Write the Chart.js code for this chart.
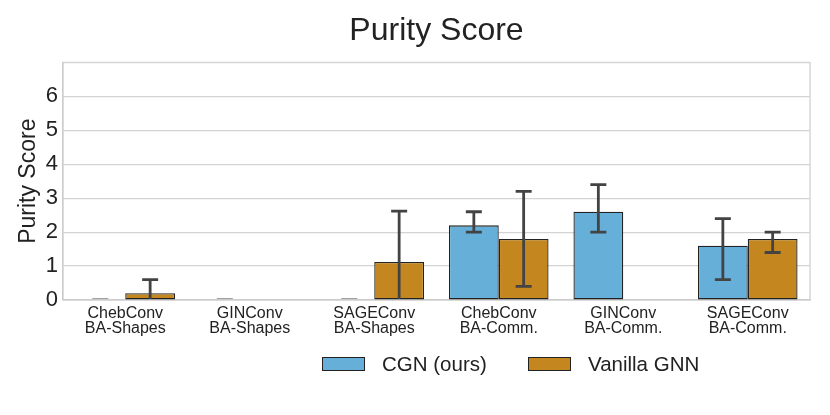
<!DOCTYPE html>
<html>
<head>
<meta charset="utf-8">
<script src="https://cdn.jsdelivr.net/npm/chart.js@4"></script>
<style>
  body { margin: 0; background: #fff; }
  #wrap { position: relative; width: 830px; height: 415px; }
  .leg { position: absolute; top: 352px; height: 23px; font: 20.5px "Liberation Sans", Arial, sans-serif; color: #222; display: flex; align-items: center; }
  .sw { width: 41px; height: 12px; border: 1px solid #222; margin-right: 17px; }
</style>
</head>
<body>
<div id="wrap">
  <canvas id="purityChart" width="830" height="415"></canvas>
  <div class="leg" style="left:322px"><span class="sw" style="background:#65afd8"></span>CGN (ours)</div>
  <div class="leg" style="left:528px"><span class="sw" style="background:#c4871f"></span>Vanilla GNN</div>
</div>
<script>
// categorías (modelo / dataset)
const categories = [
  ['ChebConv', 'BA-Shapes'], ['GINConv', 'BA-Shapes'], ['SAGEConv', 'BA-Shapes'],
  ['ChebConv', 'BA-Comm.'], ['GINConv', 'BA-Comm.'], ['SAGEConv', 'BA-Comm.']
];
const yTicks = [0, 1, 2, 3, 4, 5, 6];

const cgnMean = [0, 0, 0, 2.2, 2.6, 1.6];
const cgnLow  = [0, 0, 0, 2.0, 2.0, 0.6];
const cgnHigh = [0, 0, 0, 2.6, 3.4, 2.4];

const vanillaMean = [0.2, null, 1.12, 1.8, null, 1.8];
const vanillaLow  = [-0.2, null, -0.38, 0.4, null, 1.4];
const vanillaHigh = [0.6, null, 2.62, 3.2, null, 2.0];

const errLow = [cgnLow, vanillaLow];
const errHigh = [cgnHigh, vanillaHigh];

const FONT = '"Liberation Sans", Arial, sans-serif';

// barras de error + marco del área
const errorBars = {
  id: 'errorBars',
  beforeDraw(chart) {
    const a = chart.chartArea, ctx = chart.ctx;
    ctx.save();
    ctx.strokeStyle = '#cccccc';
    ctx.lineWidth = 1.2;
    ctx.strokeRect(a.left, a.top, a.right - a.left, a.bottom - a.top);
    ctx.restore();
  },
  afterDatasetsDraw(chart) {
    const ctx = chart.ctx, y = chart.scales.y, a = chart.chartArea;
    ctx.save();
    ctx.beginPath();
    ctx.rect(a.left, a.top - 2, a.right - a.left, a.bottom - a.top + 1);
    ctx.clip();
    ctx.strokeStyle = '#434343';
    ctx.lineWidth = 2.8;
    chart.data.datasets.forEach((ds, i) => {
      chart.getDatasetMeta(i).data.forEach((bar, j) => {
        const lo = errLow[i][j], hi = errHigh[i][j];
        if (lo === null || hi === null) return;
        const x = bar.x, y1 = y.getPixelForValue(lo), y2 = y.getPixelForValue(hi);
        ctx.beginPath();
        ctx.moveTo(x, y1); ctx.lineTo(x, y2);
        ctx.moveTo(x - 8, y1); ctx.lineTo(x + 8, y1);
        ctx.moveTo(x - 8, y2); ctx.lineTo(x + 8, y2);
        ctx.stroke();
      });
    });
    ctx.restore();
  }
};

// centrar el título sobre el área del gráfico
const centerTitle = {
  id: 'centerTitle',
  afterLayout(chart) {
    chart.titleBlock.left = chart.chartArea.left;
    chart.titleBlock.right = chart.chartArea.right;
  }
};

new Chart(document.getElementById('purityChart'), {
  type: 'bar',
  data: {
    labels: categories,
    datasets: [{
      label: 'CGN (ours)',
      data: cgnMean,
      backgroundColor: '#65afd8',
      borderColor: '#222222',
      borderWidth: 1.3,
      borderSkipped: false
    }, {
      label: 'Vanilla GNN',
      data: vanillaMean,
      backgroundColor: '#c4871f',
      borderColor: '#222222',
      borderWidth: 1.3,
      borderSkipped: false
    }]
  },
  options: {
    responsive: false,
    animation: false,
    layout: { padding: { right: 20, left: 0, bottom: 0 } },
    plugins: {
      legend: { display: false },
      tooltip: { enabled: false },
      title: {
        display: true,
        text: 'Purity Score',
        color: '#222',
        font: { family: FONT, size: 32, weight: 'normal' },
        padding: { top: 12, bottom: 12 }
      }
    },
    datasets: { bar: { categoryPercentage: 0.8, barPercentage: 1.0 } },
    scales: {
      x: {
        grid: { display: false, drawTicks: false },
        border: { color: '#cccccc', width: 1.2 },
        ticks: { color: '#222', font: { family: FONT, size: 16, lineHeight: 0.95 }, padding: 6, maxRotation: 0 },
        afterFit(scale) { scale.height = 115; }
      },
      y: {
        min: 0,
        max: 7,
        grid: { color: '#d4d4d4', lineWidth: 1.2, drawTicks: false },
        border: { color: '#cccccc', width: 1.2 },
        ticks: {
          stepSize: 1,
          color: '#222',
          padding: 5,
          font: { family: FONT, size: 22 },
          callback: v => yTicks.includes(v) ? v : ''
        },
        title: {
          display: true,
          text: 'Purity Score',
          color: '#222',
          font: { family: FONT, size: 23 },
          padding: { top: 15, bottom: 0 }
        },
        afterFit(scale) { scale.width = 63; }
      }
    }
  },
  plugins: [errorBars, centerTitle]
});
</script>
</body>
</html>
